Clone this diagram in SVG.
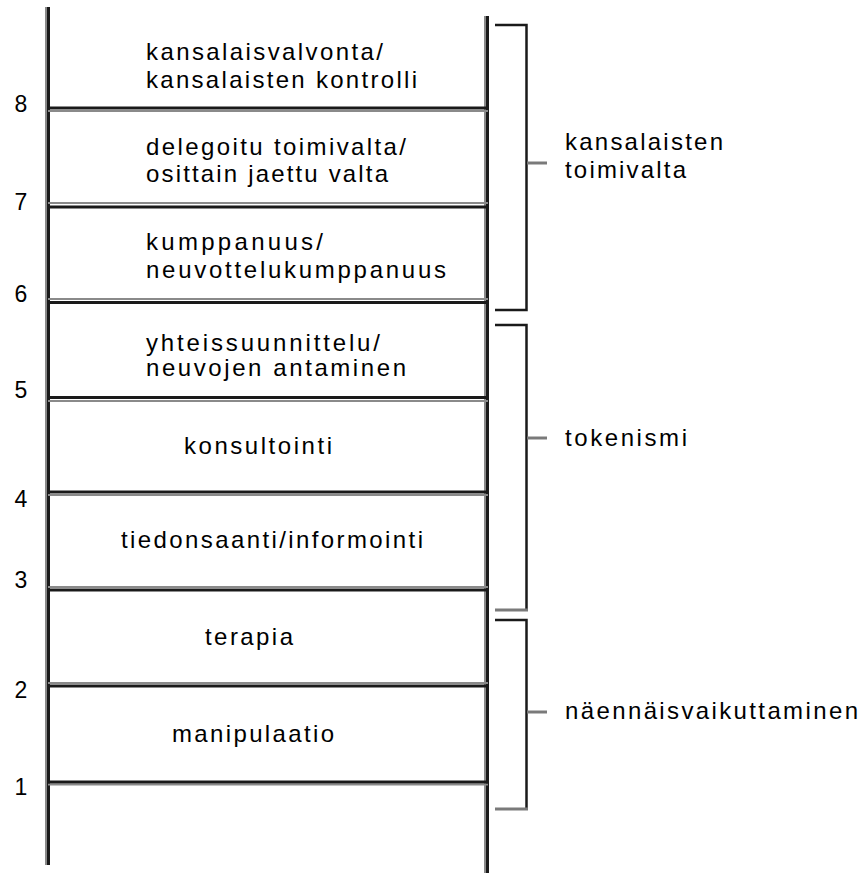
<svg xmlns="http://www.w3.org/2000/svg" width="863" height="873" viewBox="0 0 863 873">
<style>
.t{font-family:"Liberation Sans",Arial,sans-serif;font-size:24px;fill:#000}
.n{font-family:"Liberation Sans",Arial,sans-serif;font-size:23px;fill:#000;text-anchor:middle}
.d{stroke:#1a1a1a;stroke-width:3;fill:none}
.g{stroke:#8a8a8a;stroke-width:2;fill:none}
.b{stroke:#1a1a1a;stroke-width:2.5;fill:none}
.gt{stroke:#7a7a7a;stroke-width:3;fill:none}
</style>
<rect width="863" height="873" fill="#fff"/>
<g id="ladder-frame">
<line class="g" x1="46" y1="7" x2="46" y2="865"/>
<line class="d" x1="48.5" y1="7" x2="48.5" y2="865"/>
<line class="g" x1="485" y1="16" x2="485" y2="873"/>
<line class="d" x1="487.5" y1="16" x2="487.5" y2="873"/>
</g>
<g id="rungs">
<line class="g" x1="48" y1="111" x2="488" y2="111"/><line class="d" x1="48" y1="108" x2="488" y2="108"/>
<line class="g" x1="48" y1="203" x2="488" y2="203"/><line class="d" x1="48" y1="207" x2="488" y2="207"/>
<line class="g" x1="48" y1="299" x2="488" y2="299"/><line class="d" x1="48" y1="302.5" x2="488" y2="302.5"/>
<line class="g" x1="48" y1="401" x2="488" y2="401"/><line class="d" x1="48" y1="397.5" x2="488" y2="397.5"/>
<line class="g" x1="48" y1="495" x2="488" y2="495"/><line class="d" x1="48" y1="492" x2="488" y2="492"/>
<line class="g" x1="48" y1="587" x2="488" y2="587"/><line class="d" x1="48" y1="590" x2="488" y2="590"/>
<line class="g" x1="48" y1="683" x2="488" y2="683"/><line class="d" x1="48" y1="686" x2="488" y2="686"/>
<line class="g" x1="48" y1="784.5" x2="488" y2="784.5"/><line class="d" x1="48" y1="782" x2="488" y2="782"/>
</g>
<g id="numbers">
<text class="n" x="21" y="112">8</text>
<text class="n" x="21" y="210">7</text>
<text class="n" x="21" y="302">6</text>
<text class="n" x="21" y="398">5</text>
<text class="n" x="21" y="507">4</text>
<text class="n" x="21" y="588">3</text>
<text class="n" x="21" y="698">2</text>
<text class="n" x="21" y="795">1</text>
</g>
<g id="level-8">
<text class="t" x="146" y="60" textLength="237">kansalaisvalvonta/</text>
<text class="t" x="146" y="88" textLength="271">kansalaisten kontrolli</text>
</g>
<g id="level-7">
<text class="t" x="146" y="155" textLength="260">delegoitu toimivalta/</text>
<text class="t" x="146" y="182" textLength="242">osittain jaettu valta</text>
</g>
<g id="level-6">
<text class="t" x="146" y="250" textLength="177">kumppanuus/</text>
<text class="t" x="146" y="278" textLength="300">neuvottelukumppanuus</text>
</g>
<g id="level-5">
<text class="t" x="146" y="351" textLength="234">yhteissuunnittelu/</text>
<text class="t" x="146" y="376" textLength="260">neuvojen antaminen</text>
</g>
<g id="level-4">
<text class="t" x="184" y="454" textLength="148">konsultointi</text>
</g>
<g id="level-3">
<text class="t" x="121" y="548" textLength="302">tiedonsaanti/informointi</text>
</g>
<g id="level-2">
<text class="t" x="205" y="645" textLength="88">terapia</text>
</g>
<g id="level-1">
<text class="t" x="172" y="742" textLength="162">manipulaatio</text>
</g>
<g id="bracket-kansalaisten-toimivalta">
<polyline class="b" points="495,25 526.5,25 526.5,310 495,310"/>
<line class="gt" x1="527" y1="163" x2="547" y2="163"/>
<text class="t" x="565" y="150" textLength="158">kansalaisten</text>
<text class="t" x="565" y="178" textLength="121">toimivalta</text>
</g>
<g id="bracket-tokenismi">
<polyline class="b" points="495,325 526.5,325 526.5,611"/>
<line class="gt" x1="495" y1="610" x2="528" y2="610"/>
<line class="gt" x1="527" y1="438" x2="547" y2="438"/>
<text class="t" x="565" y="446" textLength="122">tokenismi</text>
</g>
<g id="bracket-naennaisvaikuttaminen">
<polyline class="b" points="495,620 526.5,620 526.5,809"/>
<line class="gt" x1="495" y1="809" x2="528" y2="809"/>
<line class="gt" x1="527" y1="712" x2="547" y2="712"/>
<text class="t" x="565" y="719" textLength="293">näennäisvaikuttaminen</text>
</g>
</svg>
